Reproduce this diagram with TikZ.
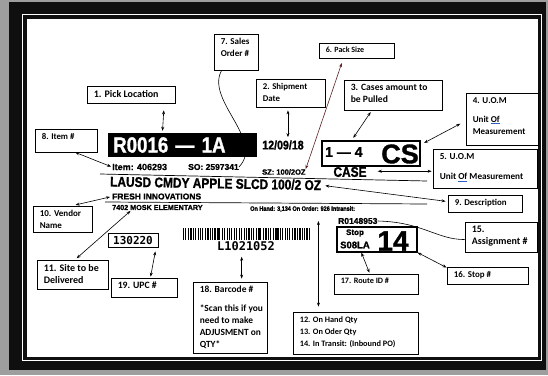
\documentclass[tikz,border=0pt]{standalone}
\usepackage{fontspec}
\setmainfont{Carlito}
\newfontfamily\lblfont[BoldFeatures={FakeBold=1.2}]{Liberation Sans}
\newfontfamily\lblnarrow[FakeStretch=0.85,BoldFeatures={FakeBold=1.2}]{Liberation Sans}
\newfontfamily\lblmono{DejaVu Sans Mono}
\usetikzlibrary{arrows.meta,positioning,calc}
\definecolor{mat}{gray}{0.62}
\definecolor{frame}{gray}{0.06}
\definecolor{packline}{HTML}{5B2424}
\definecolor{squiggle}{HTML}{2E5EC4}
\newcommand{\uof}{\textcolor{squiggle}{\underline{\textcolor{black}{Of}}}}
\newcommand{\lblsize}[1]{\fontsize{#1}{#1}\selectfont}

\tikzset{
  notebox/.style={draw, line width=0.8pt, fill=white, inner sep=0pt},
  notetext/.style={anchor=north west, align=left, inner sep=0pt},
  lbl/.style={inner sep=0pt, font=\lblfont\bfseries},
  dimarrow/.style={{Stealth[length=4pt,width=3pt]}-{Stealth[length=4pt,width=3pt]}, line width=0.6pt},
}

\begin{document}
\begin{tikzpicture}[x=1pt, y=-1pt]
  \useasboundingbox (0,0) rectangle (548,375);
  \fill[mat] (0,0) rectangle (548,375);
  \fill[frame] (9,2) rectangle (545.5,370);
  \draw[white, line width=1pt] (22.5,14.5) rectangle (541.5,360.5);
  \filldraw[fill=white, draw=frame, line width=2.5pt] (26,18) rectangle (539.5,358);

  % the pick label
  \node[lbl, fill=black, text=white, anchor=west, minimum height=24pt, text width=139pt, inner xsep=5pt,
        font=\lblnarrow\bfseries\lblsize{22}] (loc) at (108,145) {R0016 — 1A};
  \node[lbl, anchor=west, font=\lblfont\bfseries\lblsize{9}] (itemno) at (112,167) {Item: 406293};
  \node[lbl, anchor=west, font=\lblfont\bfseries\lblsize{8.5}] (sono) at (188,167) {SO: 2597341};
  \node[lbl, font=\lblnarrow\bfseries\lblsize{12.5}] (date) at (283,145) {12/09/18};
  \node[lbl, anchor=west, font=\lblfont\bfseries\lblsize{7.5}] (sz) at (262,172) {SZ: 100/2OZ};
  \node[lbl, font=\lblnarrow\bfseries\lblsize{14}] (case) at (350,172) {CASE};
  \node[draw, line width=1.2pt, minimum width=98pt, minimum height=25pt, inner sep=0pt] (qty) at (371,153.5) {};
  \node[lbl, anchor=west, font=\lblfont\bfseries\lblsize{14}] (qtynum) at (325,152) {1 — 4};
  \node[lbl, font=\lblfont\bfseries\lblsize{27}] (qtyunit) at (400,154) {CS};
  \draw[line width=0.7pt] (100,174) -- (427,181);
  \node[lbl, anchor=west, rotate=-1, font=\lblnarrow\bfseries\lblsize{14}] (descr) at (110,181.5) {LAUSD CMDY APPLE SLCD 100/2 OZ};
  \node[lbl, anchor=west, font=\lblfont\bfseries\lblsize{8.5}] (vendor) at (112,196.5) {FRESH INNOVATIONS};
  \draw[line width=0.7pt] (105,202) -- (427,204);
  \node[lbl, anchor=west, font=\lblfont\bfseries\lblsize{7.2}] (site) at (112,207.5) {7402 MOSK ELEMENTARY};
  \node[lbl, anchor=west, font=\lblnarrow\bfseries\lblsize{6.5}] (onhand) at (250,209) {On Hand: 3,134 On Order: 926 Intransit:};
  \node[draw, line width=1pt, minimum width=50pt, minimum height=14pt, inner sep=0pt,
        font=\lblmono\bfseries\lblsize{11}] (upcno) at (133,240) {130220};
  \pgfmathsetseed{12}
  \foreach \i in {0,...,52}{
    \pgfmathrandominteger{\bw}{1}{3}
    \fill (183+\i*2.42,228) rectangle ++(\bw*0.55,12);
  }
  \node[lbl, font=\lblmono\bfseries\lblsize{12}] (barcode) at (246,246) {L1021052};
  \node[lbl, anchor=west, font=\lblfont\bfseries\lblsize{8.5}] (assign) at (338,221) {R0148953};
  \node[draw, line width=1.2pt, minimum width=80pt, minimum height=25pt, inner sep=0pt] (stopno) at (377,239.5) {};
  \node[lbl, font=\lblfont\bfseries\lblsize{8}] (stopword) at (355,233) {Stop};
  \node[lbl, anchor=west, font=\lblfont\bfseries\lblsize{9.5}] (route) at (340,245) {S08LA};
  \node[lbl, font=\lblfont\bfseries\lblsize{28}] (stopnum) at (393,241) {14};

  % callouts
  \foreach \nm/\x/\y/\w/\h/\fs/\txt in {
    pickbox/87/86/88/17/10/{1. Pick Location},
    salesbox/214/34/44/36/9/{7. Sales\\Order \#},
    shipbox/256/79/69/28/8.8/{2. Shipment\\Date},
    packbox/319/43/75/15/8/{6. Pack Size},
    casesbox/344/80/98/30/9.6/{3. Cases amount to\\be Pulled},
    uombox/466/93/72/52/9/{4. U.O.M\\[7pt]Unit \uof\\Measurement},
    uomtwobox/433/149/104/39/9.2/{5. U.O.M\\[8pt]Unit \uof{} Measurement},
    itembox/35/129/62/23/8.8/{8. Item \#},
    descbox/448/195/74/17/8.9/{9. Description},
    vendorbox/33/206/59/26/9/{10. Vendor\\Name},
    sitebox/37/260/71/29/10/{11. Site to be\\Delivered},
    assignbox/465/222/72/30/10/{15.\\Assignment \#},
    stopbox/447/267/81/17/8.9/{16. Stop \#},
    routebox/334/274/84/20/8.2/{17. Route ID \#},
    upcbox/111/278/66/19/9.7/{19. UPC \#},
    barbox/193/282/74/71/9.4/{18. Barcode \#\\[7pt]*Scan this if you\\need to make\\ADJUSMENT on\\QTY*},
    onhandbox/293/312/125/42/8.3/{12. On Hand Qty\\13. On Oder Qty\\14. In Transit: (Inbound PO)}}{
    \node[notebox, minimum width=\w*1pt, minimum height=\h*1pt] (\nm) at (\x+\w/2,\y+\h/2) {};
    \node[notetext, font=\fontsize{\fs}{12}\selectfont\bfseries] (\nm-t) at ([xshift=7pt,yshift=-4.5pt]\nm.north west) {\txt};
  }

  \draw[dimarrow, shorten <=7pt, shorten >=2pt] (pickbox.-15.3) -- (loc.149.7);
  \draw[dimarrow, shorten >=1pt] (itembox.-52) -- (itemno.west);
  \draw[line width=0.6pt] (salesbox.-128) .. controls (205,100) and (265,140) .. (sono.east);
  \draw[dimarrow, shorten <=3pt, shorten >=3pt] (shipbox.-100) -- (shipbox.-100 |- date.north);
  \draw[dimarrow, draw=packline, shorten <=5pt] (packbox.-149) -- (sz.north east);
  \draw[dimarrow, shorten <=2pt, shorten >=3pt] (casesbox.-144.5) -- (qty.146.7);
  \draw[dimarrow, shorten <=6pt, shorten >=4pt] (uombox.183) -- (qty.10);
  \draw[dimarrow, shorten <=1pt, shorten >=11pt] (uomtwobox.183.85) -- (uomtwobox.183.85 -| case.east);
  \draw[dimarrow, shorten <=2pt, shorten >=4pt] (descbox.177.7) -- (descr.east);
  \draw[dimarrow, shorten <=3pt, shorten >=2pt] (vendorbox.53.8) -- (vendor.west);
  \draw[dimarrow, shorten <=2pt, shorten >=1pt] (sitebox.80) -- (site.-174);
  \draw[dimarrow, shorten <=1pt, shorten >=4pt] (upcbox.57.7) -- (upcno.-18.4);
  \draw[dimarrow, shorten <=3pt, shorten >=6pt] (barbox.72.8) -- (barbox.72.8 |- barcode.south);
  \draw[dimarrow, shorten <=5pt, shorten >=9pt] (onhandbox.150.75) -- (onhandbox.150.75 |- onhand.south);
  \draw[line width=0.6pt] (assign.east) .. controls +(45,1) and +(-28,0) .. (assignbox.184.8);
  \draw[dimarrow] (stopbox.169.5) -- (stopno.south east);
  \draw[dimarrow, shorten <=1pt] (routebox.121) -- (stopno.-140);
\end{tikzpicture}
\end{document}
